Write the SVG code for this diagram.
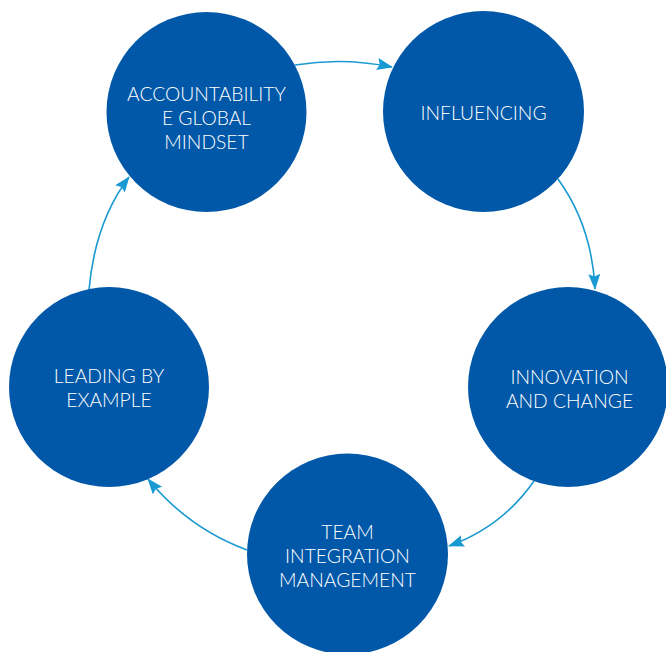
<svg xmlns="http://www.w3.org/2000/svg" width="666" height="652" viewBox="0 0 666 652">
<defs>
<style>
.node{fill:#0258a8}
.lbl{fill:#ffffff;font-family:Lato,"Open Sans","Liberation Sans",sans-serif;font-weight:300;font-size:19.3px;text-anchor:middle}
.conn{fill:none;stroke:#1a9ad2;stroke-width:1.6}
</style>
<marker id="ah" markerUnits="userSpaceOnUse" markerWidth="16" markerHeight="13" refX="15" refY="6" orient="auto">
<path d="M0,0 L16,6 L0,12 L2.5,6 z" fill="#1a9ad2"/>
</marker>
</defs>
<rect width="666" height="652" fill="#ffffff"/>
<g id="connectors">
<path class="conn" marker-end="url(#ah)" d="M295,65 Q343,57 392,67"/>
<path class="conn" marker-end="url(#ah)" d="M558,179 Q592,226 595,289"/>
<path class="conn" marker-end="url(#ah)" d="M534,481 Q502,527 449,546"/>
<path class="conn" marker-end="url(#ah)" d="M247,550 Q188,528 148,479"/>
<path class="conn" marker-end="url(#ah)" d="M89,290 Q95,222 129,177"/>
</g>
<g id="accountability">
<circle class="node" cx="206.5" cy="112" r="100"/>
<text class="lbl" x="206.5" y="101">ACCOUNTABILITY</text>
<text class="lbl" x="206.5" y="125">E GLOBAL</text>
<text class="lbl" x="206.5" y="149">MINDSET</text>
</g>
<g id="influencing">
<circle class="node" cx="483.5" cy="111.5" r="100.5"/>
<text class="lbl" x="483.5" y="120">INFLUENCING</text>
</g>
<g id="innovation">
<circle class="node" cx="568" cy="387" r="100"/>
<text class="lbl" x="569.5" y="384">INNOVATION</text>
<text class="lbl" x="569.5" y="408">AND CHANGE</text>
</g>
<g id="team">
<circle class="node" cx="347.5" cy="554" r="100.5"/>
<text class="lbl" x="347.5" y="539">TEAM</text>
<text class="lbl" x="347.5" y="563">INTEGRATION</text>
<text class="lbl" x="347.5" y="587">MANAGEMENT</text>
</g>
<g id="leading">
<circle class="node" cx="109" cy="387" r="100"/>
<text class="lbl" x="109" y="383">LEADING BY</text>
<text class="lbl" x="109" y="407">EXAMPLE</text>
</g>
</svg>
